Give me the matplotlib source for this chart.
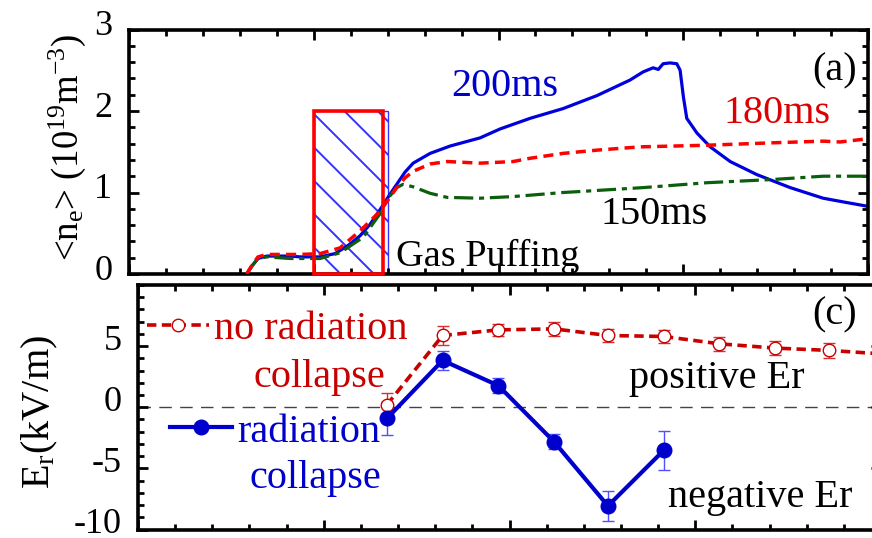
import matplotlib
matplotlib.use('Agg')
import matplotlib.pyplot as plt
from matplotlib.patches import Rectangle
from matplotlib.lines import Line2D
from matplotlib.ticker import MultipleLocator, NullFormatter
from matplotlib.transforms import ScaledTranslation

plt.rcParams['font.family'] = ['Liberation Serif', 'DejaVu Serif']
plt.rcParams['mathtext.fontset'] = 'custom'
plt.rcParams['mathtext.rm'] = 'Liberation Serif'
plt.rcParams['mathtext.it'] = 'Liberation Serif:italic'
plt.rcParams['axes.unicode_minus'] = False
plt.rcParams['hatch.linewidth'] = 1.4

# (a) line averaged density, time in ms
t_200 = [63.7, 66.6, 69.8, 74.6, 87.2, 92.6, 103.4, 111.5, 118.6, 125.1, 130.5, 135.9, 141.3,
         144.9, 149.4, 153.8, 163.0, 173.8, 190.0, 200.9, 217.1, 235.0, 253.4, 271.2, 278.3,
         283.7, 286.5, 289.1, 292.9, 296.5, 298.3, 300.1, 301.9, 307.4, 314.6, 325.4, 339.8,
         357.9, 375.7, 387.7, 400.0]
n_200 = [0.0, 0.10, 0.19, 0.22, 0.22, 0.21, 0.21, 0.25, 0.35, 0.47, 0.61, 0.79, 0.98,
         1.10, 1.25, 1.36, 1.48, 1.57, 1.67, 1.78, 1.91, 2.03, 2.19, 2.38, 2.48,
         2.53, 2.51, 2.58, 2.59, 2.58, 2.50, 2.17, 1.91, 1.73, 1.56, 1.38, 1.22,
         1.06, 0.93, 0.88, 0.83]
t_180 = [63.7, 66.6, 69.8, 74.6, 92.6, 103.4, 114.2, 125.1, 135.9, 144.9, 149.4, 153.8,
         163.0, 172.2, 190.0, 207.9, 217.1, 235.0, 253.4, 276.7, 312.9, 348.7, 375.7,
         384.9, 400.0]
n_180 = [0.0, 0.11, 0.21, 0.24, 0.24, 0.25, 0.32, 0.53, 0.77, 1.06, 1.18, 1.26,
         1.35, 1.38, 1.36, 1.38, 1.42, 1.48, 1.52, 1.56, 1.58, 1.61, 1.63,
         1.62, 1.66]
t_150 = [63.7, 66.6, 69.8, 74.6, 87.2, 103.4, 114.2, 126.7, 135.9, 139.5, 144.9, 148.3,
         153.8, 163.0, 172.2, 190.0, 207.9, 235.0, 242.6, 278.3, 312.9, 348.7, 375.7, 400.0]
n_150 = [0.0, 0.10, 0.19, 0.21, 0.19, 0.19, 0.26, 0.45, 0.74, 0.91, 1.06, 1.10,
         1.07, 0.99, 0.94, 0.93, 0.95, 1.00, 1.01, 1.06, 1.12, 1.16, 1.20, 1.20]
puff_start, puff_end, puff_box_end, puff_height = 100, 140, 137.5, 2.0

# (c) radial electric field
t_nocol = [134, 164, 194, 224, 253, 283, 313, 343, 372, 402]
er_nocol = [0.2, 5.87, 6.33, 6.41, 5.87, 5.79, 5.19, 4.84, 4.65, 4.35]
err_nocol = [1.0, 0.75, 0.5, 0.6, 0.5, 0.55, 0.55, 0.55, 0.6, 0.6]
t_col = [134, 164, 194, 224, 253, 283]
er_col = [-0.92, 3.83, 1.77, -2.82, -8.07, -3.53]
err_col = [1.35, 0.75, 0.6, 0.6, 1.2, 1.6]

blue = '#0000dd'
blue_txt = '#0000cc'
red_dk = '#c80000'
green = '#0b5e0b'

fig = plt.figure(figsize=(8.72, 5.38), dpi=100)
ax1 = fig.add_axes([129/872, 1-274/538, (868-129)/872, (274-29.5)/538])
ax2 = fig.add_axes([138/872, 1-529.5/538, (881-138)/872, (529.5-285)/538])

for ax in (ax1, ax2):
    for s in ax.spines.values():
        s.set_linewidth(2.6)
    ax.xaxis.set_major_locator(MultipleLocator(100))
    ax.xaxis.set_minor_locator(MultipleLocator(20))
    ax.xaxis.set_major_formatter(NullFormatter())
    ax.tick_params(which='both', direction='in', top=True, right=True, width=2,
                   labelsize=26, pad=12)
    ax.tick_params(which='major', length=7.5)
    ax.tick_params(which='minor', length=4.5)
    ax.set_xlim(0, 400)

# ---- panel (a)
ax1.plot(t_150, n_150, color=green, lw=2.3, ls=(0, (6, 1.8, 1.6, 1.8)), zorder=3)
ax1.plot(t_180, n_180, color='#ff0000', lw=2.5, ls=(0, (2.9, 1.8)), zorder=4)
ax1.plot(t_200, n_200, color=blue, lw=2.3, zorder=2)
ax1.add_patch(Rectangle((puff_start, 0), puff_end-puff_start, puff_height, facecolor='none',
                        edgecolor='#3333ff', hatch='\\', lw=1, zorder=1))
ax1.add_patch(Rectangle((puff_start, 0), puff_box_end-puff_start, puff_height, fill=False,
                        edgecolor='#ff0000', lw=2.6, zorder=5, clip_on=False))
ax1.set_ylim(0, 3)
ax1.set_yticks([0, 1, 2, 3])
ax1.yaxis.set_minor_locator(MultipleLocator(0.2))
ax1.set_ylabel(r'<n$_\mathrm{e}$> (10$^{\mathrm{19}}$m$^{\mathrm{-3}}$)', fontsize=26.5)
ax1.yaxis.set_label_coords(-0.055, 0.52)

ax1.text(203.5, 2.19, '200ms', color=blue_txt, fontsize=29, ha='center', va='baseline')
ax1.text(351, 1.85, '180ms', color='#dd0000', fontsize=29, ha='center', va='baseline')
ax1.text(284, 0.61, '150ms', color='black', fontsize=29, ha='center', va='baseline')
ax1.text(194, 0.10, 'Gas Puffing', color='black', fontsize=27.5, ha='center', va='baseline')
ax1.text(382, 2.375, '(a)', color='black', fontsize=29, ha='center', va='baseline')

# ---- panel (c)
ax2.axhline(0, color='#444444', lw=1, ls=(0, (9, 6)), zorder=1)
ax2.errorbar(t_nocol, er_nocol, yerr=err_nocol, fmt='none', ecolor='#d83030',
             elinewidth=1, capsize=4, capthick=1, zorder=2)
ax2.errorbar(t_col, er_col, yerr=err_col, fmt='none', ecolor='#5050ff',
             elinewidth=1, capsize=4, capthick=1, zorder=2)
ax2.plot(t_nocol, er_nocol, color=red_dk, lw=2.6, ls=(0, (2.6, 1.5)), marker='o', ms=9,
         mfc='white', mec=red_dk, mew=1, zorder=3)
ax2.plot(t_col, er_col, color=blue_txt, lw=3, marker='o', ms=10.5, zorder=4)
ax2.set_ylim(-10, 10)
ax2.set_yticks([-10, -5, 0, 5])
ax2.yaxis.set_minor_locator(MultipleLocator(1))
ax2.set_ylabel(r'E$_\mathrm{r}$(kV/m)', fontsize=29)
ax2.yaxis.set_label_coords(-0.105, 0.48)

h_red = Line2D([], [], color=red_dk, lw=2.6, ls=(0, (2.6, 1.5)), marker='o', ms=9,
               mfc='white', mec=red_dk, mew=1)
h_blue = Line2D([], [], color=blue_txt, lw=3, marker='o', ms=10.5)
leg1 = ax2.legend([h_red], ['no radiation'], loc='center left', bbox_to_anchor=(0.012, 0.818),
                  frameon=False, handlelength=1.55, handletextpad=0.12, borderpad=0,
                  borderaxespad=0, fontsize=29, labelcolor=red_dk, numpoints=1)
ax2.add_artist(leg1)
ax2.legend([h_blue], ['radiation'], loc='center left', bbox_to_anchor=(0.043, 0.399),
           frameon=False, handlelength=1.55, handletextpad=0.12, borderpad=0,
           borderaxespad=0, fontsize=29, labelcolor=blue_txt, numpoints=1)
ax2.text(97.7, 1.66, 'collapse', color=red_dk, fontsize=29, ha='center', va='baseline')
ax2.text(95.5, -6.57, 'collapse', color=blue_txt, fontsize=29, ha='center', va='baseline')
ax2.text(311.7, 1.58, 'positive Er', color='black', fontsize=29, ha='center', va='baseline')
ax2.text(335, -8.2, 'negative Er', color='black', fontsize=29, ha='center', va='baseline')
ax2.text(374.9, 6.74, '(c)', color='black', fontsize=29, ha='center', va='baseline')

# labels sit a bit above their ticks in the original
for ax, up in ((ax1, 5), (ax2, 6.5)):
    shift = ScaledTranslation(0, up/72, fig.dpi_scale_trans)
    for lab in ax.get_yticklabels():
        lab.set_transform(lab.get_transform() + shift)

fig.savefig('out.png', dpi=100)
